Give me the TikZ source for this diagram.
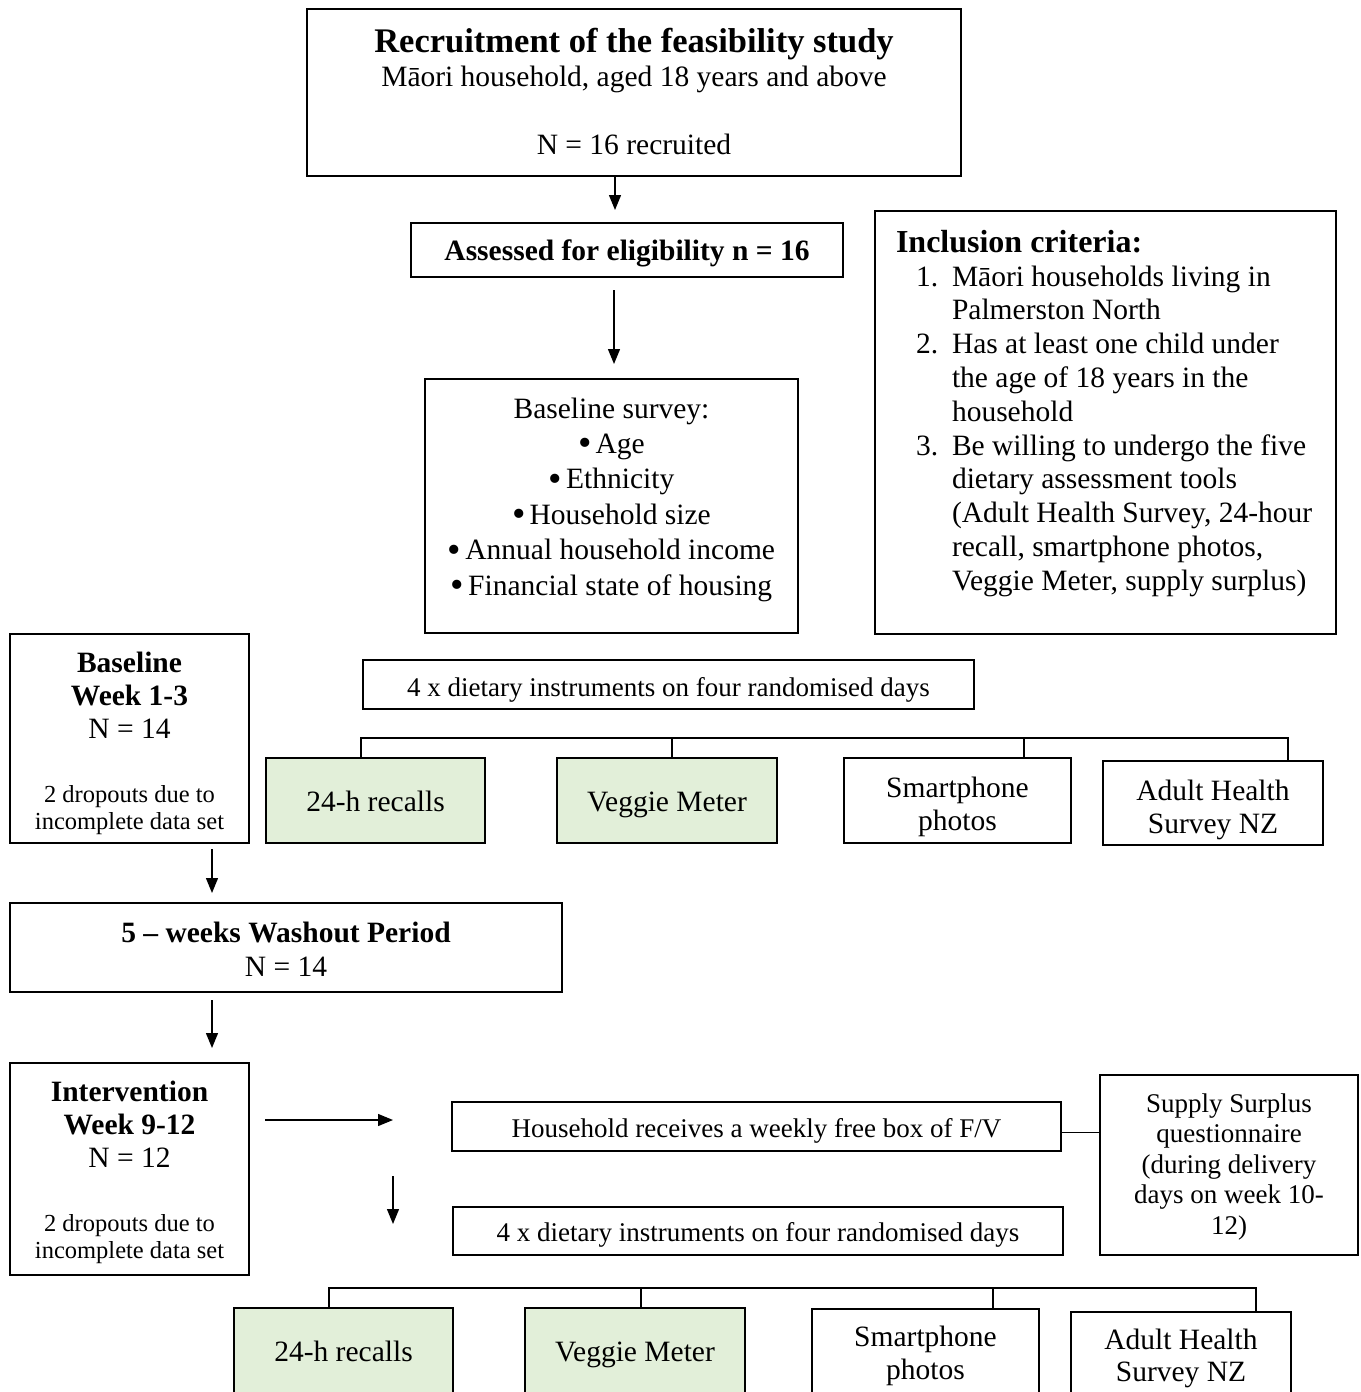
\documentclass[tikz,border=0pt]{standalone}
\usepackage{fontspec}
\setmainfont{Liberation Serif}
\usetikzlibrary{arrows.meta}
\definecolor{boxgreen}{HTML}{E2EFD9}
\newcommand{\tline}[3]{{\fontsize{#1}{#2}\selectfont #3\par}}
\newcommand{\bigbul}{\raisebox{-2.5pt}{\scalebox{1.3}{•}}\hspace{4pt}}
\begin{document}
\begin{tikzpicture}[x=1pt,y=-1pt,
  box/.style={draw, line width=1.3pt, inner sep=0pt, outer sep=0pt},
  gbox/.style={box, fill=boxgreen},
  txt/.style={inner sep=0pt, outer sep=0pt, anchor=base},
  link/.style={line width=1.1pt},
  arr/.style={line width=1.3pt, -{Triangle[length=15pt,width=12pt]}}]
\useasboundingbox (0,0) rectangle (1360,1392);

% ---------- boxes ----------
\node[box, minimum width=654pt, minimum height=167pt] (recruit) at (634,92.5) {};
\node[box, minimum width=432pt, minimum height=54pt] (assess) at (627,250) {};
\node[box, minimum width=373pt, minimum height=254pt] (survey) at (611.5,506) {};
\node[box, minimum width=461pt, minimum height=423pt] (incl) at (1105.5,422.5) {};
\node[box, minimum width=239pt, minimum height=209pt] (base) at (129.5,738.5) {};
\node[box, minimum width=611pt, minimum height=49pt] (diet1) at (668.5,684.5) {};
\node[gbox, minimum width=219pt, minimum height=85pt] (r1) at (375.5,800.5) {};
\node[gbox, minimum width=220pt, minimum height=85pt] (v1) at (667,800.5) {};
\node[box, minimum width=227pt, minimum height=85pt] (s1) at (957.5,800.5) {};
\node[box, minimum width=220pt, minimum height=84pt] (a1) at (1213,803) {};
\node[box, minimum width=552pt, minimum height=89pt] (wash) at (286,947.5) {};
\node[box, minimum width=239pt, minimum height=212pt] (inter) at (129.5,1169) {};
\node[box, minimum width=609pt, minimum height=49pt] (house) at (756.5,1126.5) {};
\node[box, minimum width=610pt, minimum height=48pt] (diet2) at (758,1231) {};
\node[box, minimum width=258pt, minimum height=180pt] (supply) at (1229,1165) {};
\node[gbox, minimum width=219pt, minimum height=112pt] (r2) at (343.5,1364) {};
\node[gbox, minimum width=220pt, minimum height=112pt] (v2) at (635,1364) {};
\node[box, minimum width=227pt, minimum height=111pt] (s2) at (925.5,1364.5) {};
\node[box, minimum width=220pt, minimum height=108pt] (a2) at (1181,1366) {};

% ---------- texts ----------
\node[txt] (recruitT) at (634,52) {\parbox[t]{650pt}{\centering
  \tline{34.5}{36}{\bfseries Recruitment of the feasibility study}
  \tline{29.5}{34}{Māori household, aged 18 years and above}
  \tline{29.5}{68}{N = 16 recruited}}};
\node[txt] (assessT) at (627,260) {\fontsize{29.5}{34}\selectfont\bfseries Assessed for eligibility n = 16};
\node[txt] (surveyT) at (611.5,418) {\parbox[t]{370pt}{\centering
  \tline{29.5}{35.4}{Baseline survey:}
  \tline{29.5}{35.4}{\bigbul Age}
  \tline{29.5}{35.4}{\bigbul Ethnicity}
  \tline{29.5}{35.4}{\bigbul Household size}
  \tline{29.5}{35.4}{\bigbul Annual household income}
  \tline{29.5}{35.4}{\bigbul Financial state of housing}}};
\node[txt, anchor=base west] (inclT) at (896,252) {\parbox[t]{455pt}{\raggedright
  \tline{32}{34}{\bfseries Inclusion criteria:}
  \tline{29.5}{34}{\hspace*{20pt}\makebox[36pt][l]{1.}Māori households living in}
  \tline{29.5}{33.8}{\hspace*{56pt}Palmerston North}
  \tline{29.5}{33.8}{\hspace*{20pt}\makebox[36pt][l]{2.}Has at least one child under}
  \tline{29.5}{33.8}{\hspace*{56pt}the age of 18 years in the}
  \tline{29.5}{33.8}{\hspace*{56pt}household}
  \tline{29.5}{33.8}{\hspace*{20pt}\makebox[36pt][l]{3.}Be willing to undergo the five}
  \tline{29.5}{33.8}{\hspace*{56pt}dietary assessment tools}
  \tline{29.5}{33.8}{\hspace*{56pt}(Adult Health Survey, 24-hour}
  \tline{29.5}{33.8}{\hspace*{56pt}recall, smartphone photos,}
  \tline{29.5}{33.8}{\hspace*{56pt}Veggie Meter, supply surplus)}}};
\node[txt] (baseT) at (129.5,672) {\parbox[t]{235pt}{\centering
  \tline{29.5}{33}{\bfseries Baseline}
  \tline{29.5}{33}{\bfseries Week 1-3}
  \tline{29.5}{33}{N = 14}
  \tline{24.5}{64}{2 dropouts due to}
  \tline{24.5}{27}{incomplete data set}}};
\node[txt] (diet1T) at (668.5,696) {\fontsize{27}{31}\selectfont 4 x dietary instruments on four randomised days};
\node[txt] (r1T) at (375.5,811) {\fontsize{29.5}{33}\selectfont 24-h recalls};
\node[txt] (v1T) at (667,811) {\fontsize{29.5}{33}\selectfont Veggie Meter};
\node[txt] (s1T) at (957.5,797) {\parbox[t]{220pt}{\centering
  \tline{29.5}{33}{Smartphone}\tline{29.5}{33}{photos}}};
\node[txt] (a1T) at (1213,800) {\parbox[t]{215pt}{\centering
  \tline{29.5}{33}{Adult Health}\tline{29.5}{33}{Survey NZ}}};
\node[txt] (washT) at (286,942) {\parbox[t]{540pt}{\centering
  \tline{29.5}{34}{\bfseries 5 – weeks Washout Period}
  \tline{29.5}{34}{N = 14}}};
\node[txt] (interT) at (129.5,1101) {\parbox[t]{235pt}{\centering
  \tline{29.5}{33}{\bfseries Intervention}
  \tline{29.5}{33}{\bfseries Week 9-12}
  \tline{29.5}{33}{N = 12}
  \tline{24.5}{64}{2 dropouts due to}
  \tline{24.5}{27}{incomplete data set}}};
\node[txt] (houseT) at (756.5,1137) {\fontsize{27}{31}\selectfont Household receives a weekly free box of F/V};
\node[txt] (diet2T) at (758,1241) {\fontsize{27}{31}\selectfont 4 x dietary instruments on four randomised days};
\node[txt] (supplyT) at (1229,1112) {\parbox[t]{250pt}{\centering
  \tline{27}{30.5}{Supply Surplus}
  \tline{27}{30.5}{questionnaire}
  \tline{27}{30.5}{(during delivery}
  \tline{27}{30.5}{days on week 10-}
  \tline{27}{30.5}{12)}}};
\node[txt] (r2T) at (343.5,1361) {\fontsize{29.5}{33}\selectfont 24-h recalls};
\node[txt] (v2T) at (635,1361) {\fontsize{29.5}{33}\selectfont Veggie Meter};
\node[txt] (s2T) at (925.5,1346) {\parbox[t]{220pt}{\centering
  \tline{29.5}{33}{Smartphone}\tline{29.5}{33}{photos}}};
\node[txt] (a2T) at (1181,1349) {\parbox[t]{215pt}{\centering
  \tline{29.5}{32}{Adult Health}\tline{29.5}{32}{Survey NZ}}};

% ---------- arrows ----------
\coordinate (e1) at (615,210);
\draw[arr] (recruit.south -| e1) -- (e1);
\coordinate (b2) at (614,290);
\coordinate (e2) at (614,364);
\draw[arr] (b2) -- (e2);
\coordinate (e3) at (212,893);
\draw[arr] (base.south -| e3) ++(0,6) -- (e3);
\coordinate (e4) at (212,1048);
\draw[arr] (wash.south -| e4) ++(0,8) -- (e4);
\coordinate (b5) at (265,1120);
\coordinate (e5) at (393,1120);
\draw[arr] (b5) -- (e5);
\coordinate (b6) at (393,1176);
\coordinate (e6) at (393,1224);
\draw[arr] (b6) -- (e6);

% ---------- links ----------
\coordinate (hk) at ([yshift=-6pt]house.east);
\draw[link] (hk) -- (hk -| supply.west);

\coordinate (tb1) at (361,738);
\coordinate (tb2) at (672,738);
\coordinate (tb3) at (1024,738);
\coordinate (tb4) at (1288,738);
\draw[link] (r1.north -| tb1) -- (tb1) -- (tb4) -- (a1.north -| tb4);
\draw[link] (tb2) -- (v1.north -| tb2);
\draw[link] (tb3) -- (s1.north -| tb3);

\coordinate (bb1) at (329,1288);
\coordinate (bb2) at (641,1288);
\coordinate (bb3) at (993,1288);
\coordinate (bb4) at (1256,1288);
\draw[link] (r2.north -| bb1) -- (bb1) -- (bb4) -- (a2.north -| bb4);
\draw[link] (bb2) -- (v2.north -| bb2);
\draw[link] (bb3) -- (s2.north -| bb3);
\end{tikzpicture}
\end{document}
